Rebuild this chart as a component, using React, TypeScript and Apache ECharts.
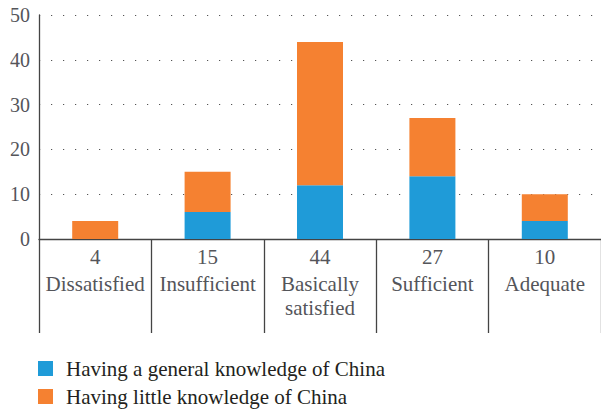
import React, { useEffect, useRef } from "react";
import * as echarts from "echarts";

const categories = ["Dissatisfied", "Insufficient", "Basically\nsatisfied", "Sufficient", "Adequate"];
const totals = [4, 15, 44, 27, 10];
const generalKnowledge = [0, 6, 12, 14, 4];
const littleKnowledge = [4, 9, 32, 13, 6];
const seriesNames = ["Having a general knowledge of China", "Having little knowledge of China"];
const yTicks = { min: 0, max: 50, interval: 10 };

const FONT = "Liberation Serif";
const BLUE = "#1f9bd8";
const ORANGE = "#f58131";
const seriesColors = [BLUE, ORANGE];

export default function App() {
  const ref = useRef<HTMLDivElement>(null);
  useEffect(() => {
    if (!ref.current) return;
    const chart = echarts.init(ref.current, null, { renderer: "svg" });
    const legendGraphic: any[] = [];
    seriesNames.forEach((name, i) => {
      legendGraphic.push({
        type: "rect",
        left: 38,
        top: 361 + i * 28,
        shape: { width: 15, height: 15 },
        style: { fill: seriesColors[i] },
      });
      legendGraphic.push({
        type: "text",
        left: 66,
        top: 358 + i * 28,
        style: { text: name, fontFamily: FONT, fontSize: 21, fill: "#231f20" },
      });
    });
    chart.setOption({
      animation: false,
      title: { text: "", textStyle: { fontFamily: FONT } },
      graphic: legendGraphic,
      grid: { left: 39, top: 15, width: 568, height: 224 },
      xAxis: {
        type: "category",
        data: categories,
        boundaryGap: true,
        axisLine: { lineStyle: { color: "#444", width: 1.3 } },
        axisTick: { show: true, interval: 0, length: 94, lineStyle: { color: "#444", width: 1.3 } },
        axisLabel: {
          interval: 0,
          margin: 3,
          fontFamily: FONT,
          fontSize: 21,
          formatter: (value: string, idx: number) => {
            const lines = value.split("\n").map((l) => `{n|${l}}`).join("\n");
            return `{v|${totals[idx]}}\n${lines}`;
          },
          rich: {
            v: { fontFamily: FONT, fontSize: 21, lineHeight: 30 },
            n: { fontFamily: FONT, fontSize: 21, lineHeight: 24 },
          },
        },
      },
      yAxis: {
        type: "value",
        min: yTicks.min,
        max: yTicks.max,
        interval: yTicks.interval,
        axisLine: { show: true, lineStyle: { color: "#444", width: 1.3 } },
        axisTick: { show: false },
        axisLabel: { margin: 9, fontFamily: FONT, fontSize: 20 },
        splitLine: { show: true, lineStyle: { color: "#555", width: 1.2, type: [1.2, 10.8] } },
      },
      series: [
        {
          name: seriesNames[0],
          type: "bar",
          stack: "total",
          data: generalKnowledge,
          barWidth: 46,
          itemStyle: { color: BLUE },
        },
        {
          name: seriesNames[1],
          type: "bar",
          stack: "total",
          data: littleKnowledge,
          barWidth: 46,
          itemStyle: { color: ORANGE },
        },
      ],
    });
    return () => chart.dispose();
  }, []);
  return (
    <>
      <style>{`.chart-box svg text { font-family: "Liberation Serif", serif !important; }`}</style>
      <div
        ref={ref}
        className="chart-box"
        style={{ position: "absolute", left: 0, top: 0, width: 601, height: 409 }}
      />
    </>
  );
}
